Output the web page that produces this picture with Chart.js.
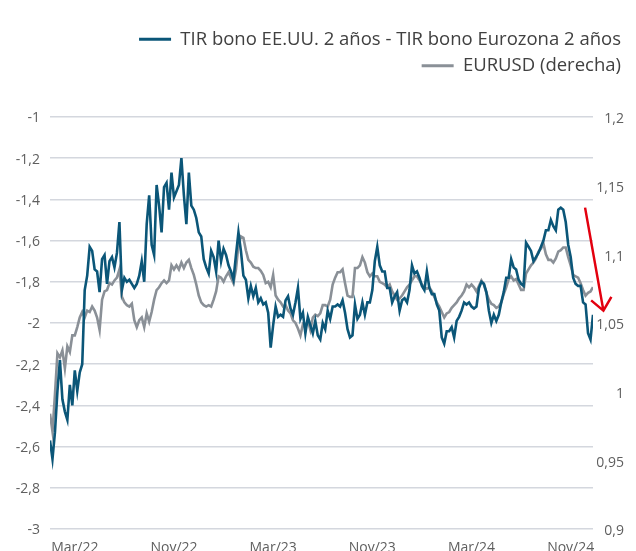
<!DOCTYPE html>
<html>
<head>
<meta charset="utf-8">
<script src="https://cdn.jsdelivr.net/npm/chart.js@4.4.1/dist/chart.umd.min.js"></script>
<style>
  html, body { margin: 0; padding: 0; background: #fff; }
  #wrap { width: 636px; height: 551px; }
</style>
</head>
<body>
<div id="wrap"><canvas id="chart" width="636" height="551"></canvas></div>
<script>
// Tick labels on the time axis and the observation they sit under
const tickLabels = ['Mar/22', 'Nov/22', 'Mar/23', 'Nov/23', 'Mar/24', 'Nov/24'];
const tickIndex = [10, 50, 90, 130, 170, 210];

// TIR bono EE.UU. 2 años - TIR bono Eurozona 2 años (left axis)
const spreadValues = [
  -2.57, -2.66, -2.53, -2.33, -2.18, -2.37, -2.43, -2.47, -2.30, -2.40,
  -2.23, -2.33, -2.24, -2.20, -1.84, -1.77, -1.63, -1.65, -1.74, -1.75,
  -1.85, -1.69, -1.67, -1.81, -1.70, -1.68, -1.73, -1.66, -1.51, -1.84,
  -1.78, -1.80, -1.79, -1.81, -1.83, -1.81, -1.77, -1.70, -1.80, -1.52,
  -1.38, -1.62, -1.67, -1.33, -1.43, -1.56, -1.34, -1.32, -1.45, -1.27,
  -1.39, -1.36, -1.33, -1.20, -1.38, -1.52, -1.27, -1.43, -1.45, -1.49,
  -1.56, -1.58, -1.69, -1.73, -1.76, -1.65, -1.68, -1.75, -1.60, -1.70,
  -1.64, -1.67, -1.72, -1.75, -1.79, -1.67, -1.56, -1.65, -1.77, -1.79,
  -1.88, -1.82, -1.87, -1.83, -1.90, -1.88, -1.91, -1.90, -1.95, -2.12,
  -2.01, -1.92, -1.97, -1.96, -1.97, -1.89, -1.87, -1.93, -1.96, -1.90,
  -1.83, -1.98, -1.95, -2.05, -1.97, -2.01, -2.05, -1.99, -2.06, -2.08,
  -2.00, -2.03, -1.94, -1.98, -1.92, -1.92, -1.91, -1.92, -1.89, -1.95,
  -2.03, -2.07, -2.06, -1.91, -1.98, -1.96, -1.90, -1.96, -1.90, -1.90,
  -1.84, -1.70, -1.63, -1.72, -1.75, -1.75, -1.83, -1.83, -1.90, -1.87,
  -1.85, -1.94, -1.89, -1.88, -1.90, -1.84, -1.72, -1.76, -1.75, -1.78,
  -1.82, -1.84, -1.75, -1.83, -1.86, -1.86, -1.91, -1.94, -2.07, -2.10,
  -2.04, -2.04, -2.02, -2.07, -1.99, -1.97, -1.94, -1.90, -1.91, -1.90,
  -1.92, -1.93, -1.92, -1.83, -1.80, -1.81, -1.85, -1.94, -2.00, -1.96,
  -1.99, -1.96, -1.90, -1.85, -1.78, -1.78, -1.69, -1.73, -1.74, -1.79,
  -1.81, -1.82, -1.61, -1.63, -1.65, -1.70, -1.68, -1.66, -1.63, -1.60,
  -1.55, -1.55, -1.50, -1.53, -1.55, -1.45, -1.44, -1.45, -1.51, -1.62,
  -1.68, -1.78, -1.81, -1.82, -1.82, -1.90, -1.91, -2.05, -2.08, -1.96
];

// EURUSD (right axis)
const eurusdValues = [
  0.984, 0.971, 0.998, 1.028, 1.025, 1.030, 1.017, 1.033, 1.029, 1.041,
  1.041, 1.047, 1.054, 1.058, 1.054, 1.059, 1.058, 1.062, 1.059, 1.054,
  1.045, 1.067, 1.073, 1.074, 1.079, 1.078, 1.081, 1.083, 1.089, 1.069,
  1.065, 1.063, 1.062, 1.064, 1.052, 1.047, 1.052, 1.054, 1.047, 1.057,
  1.051, 1.058, 1.067, 1.074, 1.076, 1.079, 1.081, 1.079, 1.081, 1.092,
  1.089, 1.092, 1.089, 1.094, 1.090, 1.094, 1.096, 1.090, 1.085, 1.078,
  1.070, 1.065, 1.063, 1.062, 1.063, 1.062, 1.067, 1.073, 1.084, 1.083,
  1.080, 1.084, 1.087, 1.083, 1.079, 1.089, 1.107, 1.113, 1.112, 1.103,
  1.096, 1.094, 1.091, 1.090, 1.090, 1.088, 1.085, 1.079, 1.080, 1.076,
  1.085, 1.070, 1.067, 1.065, 1.062, 1.063, 1.059, 1.057, 1.052, 1.050,
  1.046, 1.041, 1.049, 1.047, 1.052, 1.045, 1.054, 1.056, 1.055, 1.057,
  1.063, 1.063, 1.062, 1.067, 1.078, 1.083, 1.087, 1.087, 1.089, 1.079,
  1.070, 1.069, 1.069, 1.090, 1.090, 1.092, 1.098, 1.094, 1.087, 1.084,
  1.086, 1.084, 1.084, 1.080, 1.079, 1.078, 1.076, 1.078, 1.073, 1.070,
  1.067, 1.068, 1.070, 1.073, 1.076, 1.078, 1.081, 1.084, 1.084, 1.081,
  1.078, 1.076, 1.075, 1.076, 1.073, 1.069, 1.065, 1.062, 1.058, 1.054,
  1.057, 1.058, 1.061, 1.063, 1.065, 1.068, 1.070, 1.073, 1.078, 1.076,
  1.078, 1.076, 1.073, 1.077, 1.081, 1.078, 1.072, 1.067, 1.064, 1.063,
  1.061, 1.062, 1.065, 1.071, 1.076, 1.082, 1.084, 1.081, 1.082, 1.078,
  1.074, 1.074, 1.086, 1.089, 1.092, 1.094, 1.097, 1.102, 1.104, 1.108,
  1.100, 1.096, 1.096, 1.094, 1.097, 1.102, 1.103, 1.105, 1.105, 1.098,
  1.092, 1.085, 1.084, 1.083, 1.079, 1.074, 1.070, 1.072, 1.073, 1.076
];

// Red arrow annotation, in data units (x = observation, y = left axis)
const arrowFrom = { x: 215.8, y: -1.44 };
const arrowTo = { x: 223.2, y: -1.94 };

const categories = spreadValues.map((_, i) => i);

const tealColor = '#0b5678';
const greyColor = '#8a9097';
const fontFamily = "'Open Sans', 'Noto Sans', sans-serif";

function commaNumber(v) {
    return parseFloat(v.toFixed(2)).toString().replace('.', ',');
}

// Legend box sized so the plot starts where the original does
const legendSize = {
    id: 'legendSize',
    beforeInit(chart) {
        const fit = chart.legend.fit;
        chart.legend.fit = function () {
            fit.bind(chart.legend)();
            this.height = 95;
        };
    },
    // right axis labels are right-aligned a little inside the edge
    afterLayout(chart) {
        const s = chart.scales.y1;
        s.right = 624;
    }
};

// Red arrow drawn over the end of the series
const arrowPlugin = {
    id: 'arrowPlugin',
    afterDraw(chart) {
        const xs = chart.scales.x;
        const ys = chart.scales.y;
        const x1 = xs.getPixelForValue(arrowFrom.x);
        const y1 = ys.getPixelForValue(arrowFrom.y);
        const x2 = xs.getPixelForValue(arrowTo.x);
        const y2 = ys.getPixelForValue(arrowTo.y);
        const ang = Math.atan2(y1 - y2, x1 - x2);
        const head = 16;
        const spread = 40 * Math.PI / 180;
        const ctx = chart.ctx;
        ctx.save();
        ctx.strokeStyle = '#e3000f';
        ctx.lineWidth = 2.5;
        ctx.beginPath();
        ctx.moveTo(x1, y1);
        ctx.lineTo(x2, y2);
        ctx.moveTo(x2 + head * Math.cos(ang - spread), y2 + head * Math.sin(ang - spread));
        ctx.lineTo(x2, y2);
        ctx.lineTo(x2 + head * Math.cos(ang + spread), y2 + head * Math.sin(ang + spread));
        ctx.stroke();
        ctx.restore();
    }
};

const ctx = document.getElementById('chart').getContext('2d');
new Chart(ctx, {
    type: 'line',
    data: {
        labels: categories,
        datasets: [
            {
                label: 'TIR bono EE.UU. 2 años - TIR bono Eurozona 2 años',
                data: spreadValues,
                yAxisID: 'y',
                borderColor: tealColor,
                backgroundColor: tealColor,
                borderWidth: 2.6,
                pointRadius: 0,
                tension: 0
            },
            {
                label: 'EURUSD (derecha)',
                data: eurusdValues,
                yAxisID: 'y1',
                borderColor: greyColor,
                backgroundColor: greyColor,
                borderWidth: 2.6,
                pointRadius: 0,
                tension: 0
            }
        ]
    },
    options: {
        responsive: false,
        animation: false,
        devicePixelRatio: 1,
        layout: { padding: { top: 22, right: 7, bottom: 0, left: 0 } },
        plugins: {
            tooltip: { enabled: false },
            legend: {
                position: 'top',
                align: 'end',
                labels: {
                    boxWidth: 32,
                    boxHeight: 3,
                    padding: 8,
                    color: '#404040',
                    font: { family: fontFamily, size: 18.5 },
                    generateLabels(chart) {
                        const items = Chart.defaults.plugins.legend.labels.generateLabels(chart);
                        items.forEach(it => { it.lineWidth = 0; it.fillStyle = it.strokeStyle; });
                        return items;
                    }
                }
            }
        },
        scales: {
            x: {
                type: 'linear',
                min: 0,
                max: categories.length - 1,
                afterBuildTicks(scale) {
                    scale.ticks = tickIndex.map(v => ({ value: v }));
                },
                afterFit(scale) { scale.height = 22; },
                grid: { display: false },
                border: { display: false },
                ticks: {
                    autoSkip: false,
                    maxRotation: 0,
                    padding: 3,
                    color: '#5f5f5f',
                    font: { family: fontFamily, size: 14 },
                    callback(v) {
                        const k = tickIndex.indexOf(v);
                        return k >= 0 ? tickLabels[k] : '';
                    }
                }
            },
            y: {
                position: 'left',
                min: -3,
                max: -1,
                afterFit(scale) { scale.width = 50; },
                grid: { color: '#d4d7de', lineWidth: 1.5, drawTicks: false },
                border: { display: false },
                ticks: {
                    stepSize: 0.2,
                    padding: 10,
                    labelOffset: 1.5,
                    color: '#5f5f5f',
                    font: { family: fontFamily, size: 14 },
                    callback: v => commaNumber(v)
                }
            },
            y1: {
                position: 'right',
                min: 0.9,
                max: 1.2,
                afterFit(scale) { scale.width = 36; },
                grid: { display: false, drawTicks: false },
                border: { display: false },
                ticks: {
                    stepSize: 0.05,
                    padding: 3,
                    labelOffset: 2.5,
                    crossAlign: 'far',
                    color: '#5f5f5f',
                    font: { family: fontFamily, size: 14 },
                    callback: v => commaNumber(v)
                }
            }
        }
    },
    plugins: [legendSize, arrowPlugin]
});
</script>
</body>
</html>
